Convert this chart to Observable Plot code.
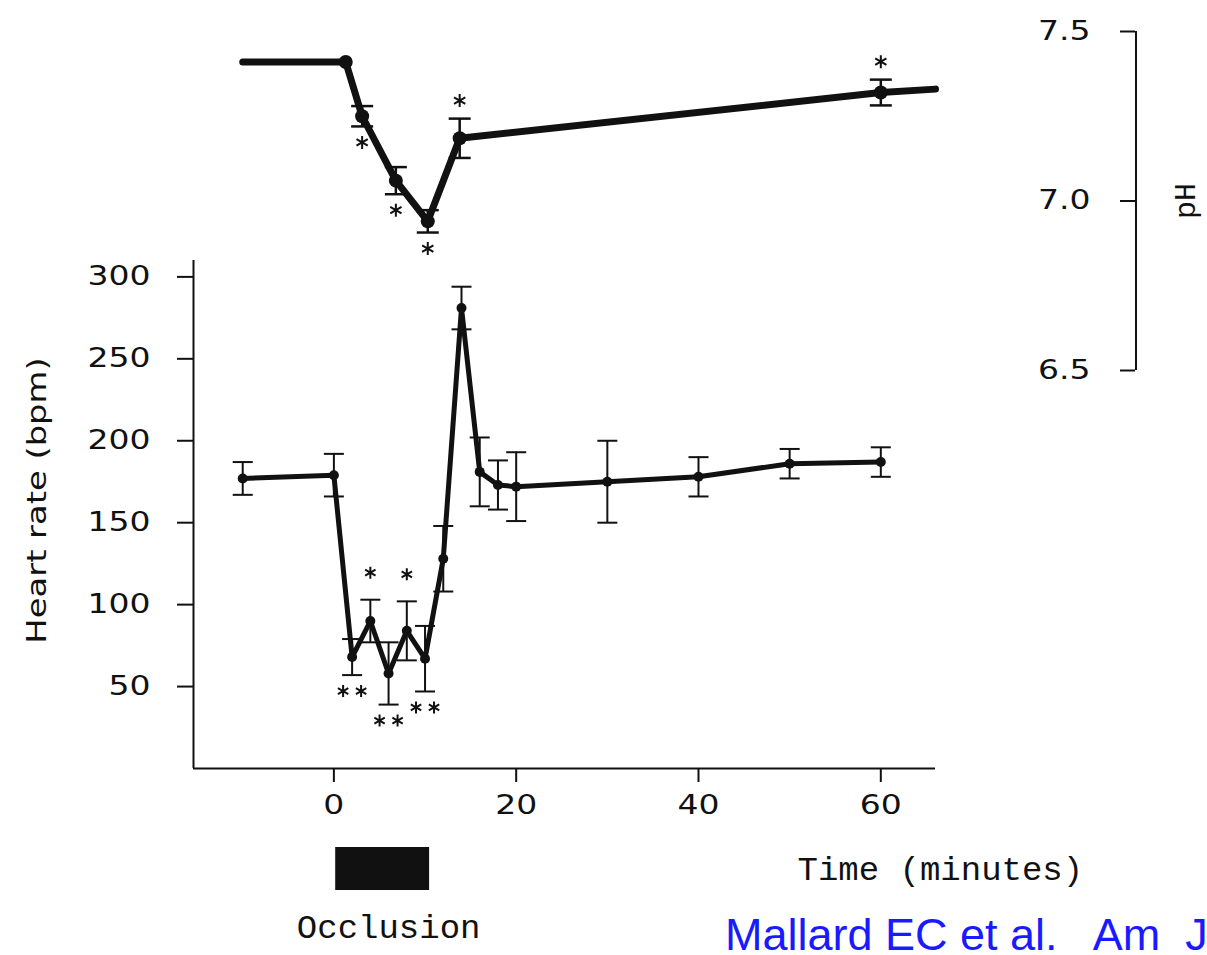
<!DOCTYPE html>
<html>
<head>
<meta charset="utf-8">
<script src="https://cdn.jsdelivr.net/npm/d3@7"></script>
<script src="https://cdn.jsdelivr.net/npm/@observablehq/plot@0.6"></script>
<style>
  html, body { margin: 0; padding: 0; background: #fff; overflow: hidden; }
  #chart { position: relative; width: 1207px; height: 955px; overflow: hidden; background: #fff; }
  #chart svg { position: absolute; left: 0; top: 0; }
  #cite { position: absolute; left: 725px; top: 912px; font-family: "Liberation Sans", Arial, sans-serif;
          font-size: 45px; line-height: 45px; color: #1a1aff; white-space: pre; }
</style>
</head>
<body>
<div id="chart"><div id="cite">Mallard EC et al.   Am  J</div></div>
<script>
// ---------------- data ----------------
// Heart rate (bpm), mean ± SEM
const hrTime  = [-10, 0, 2, 4, 6, 8, 10, 12, 14, 16, 18, 20, 30, 40, 50, 60];
const hrMean  = [177, 179, 68, 90, 58, 84, 67, 128, 281, 181, 173, 172, 175, 178, 186, 187];
const hrSem   = [10, 13, 11, 13, 19, 18, 20, 20, 13, 21, 15, 21, 25, 12, 9, 9];
// significance stars: +n above the bar, -n below the bar
const hrStars = [0, 0, -2, 1, -2, 1, -2, 0, 0, 0, 0, 0, 0, 0, 0, 0];

// Arterial pH, mean ± SEM (null = line point without marker)
const phTime  = [-10, 1.3, 3.1, 6.8, 10.3, 13.8, 60, 66];
const phMean  = [7.41, 7.41, 7.25, 7.06, 6.94, 7.185, 7.32, 7.33];
const phSem   = [null, 0, 0.03, 0.04, 0.033, 0.058, 0.038, null];
const phStars = [0, 0, -1, -1, -1, 1, 1, 0];

// axes
const timeTicks = [0, 20, 40, 60];
const hrTicks   = [50, 100, 150, 200, 250, 300];
const phTicks   = [6.5, 7.0, 7.5];
const timeDomain = [-15.4, 66];
const hrDomain   = [0, 310];
const phDomain   = [6.5, 7.5];
const hrLabel = "Heart rate (bpm)";
const timeLabel = "Time (minutes)";
const phLabel = "pH";

// occlusion period (minutes)
const occlusion = [{start: 0.2, end: 10.5, label: "Occlusion"}];

// ---------------- helpers ----------------
const ink = "#111";
const sansFont = "DejaVu Sans, sans-serif";
const monoFont = "Liberation Mono, DejaVu Sans Mono, monospace";

const hrData = hrTime.map((t, i) => ({t, mean: hrMean[i], sem: hrSem[i], stars: hrStars[i],
  hi: hrMean[i] + hrSem[i], lo: hrMean[i] - hrSem[i]}));
const phData = phTime.map((t, i) => ({t, mean: phMean[i], sem: phSem[i], stars: phStars[i],
  hi: phSem[i] == null ? null : phMean[i] + phSem[i], lo: phSem[i] == null ? null : phMean[i] - phSem[i]}));

const capSymbol = {draw(ctx, size) { const r = Math.sqrt(size / Math.PI); ctx.moveTo(-r, 0); ctx.lineTo(r, 0); }};
const starSymbol = {draw(ctx, size) {
  const r = Math.sqrt(size / Math.PI), s = r * Math.sqrt(3) / 2;
  ctx.moveTo(0, -r); ctx.lineTo(0, r);
  ctx.moveTo(-s, -r / 2); ctx.lineTo(s, r / 2);
  ctx.moveTo(-s, r / 2); ctx.lineTo(s, -r / 2);
}};

function errorMarks(data, capR, sw) {
  const d = data.filter(e => e.sem != null && e.sem > 0);
  return [
    Plot.ruleX(d, {x: "t", y1: "lo", y2: "hi", stroke: ink, strokeWidth: sw}),
    Plot.dot(d, {x: "t", y: "hi", symbol: capSymbol, r: capR, stroke: ink, strokeWidth: sw, fill: "none"}),
    Plot.dot(d, {x: "t", y: "lo", symbol: capSymbol, r: capR, stroke: ink, strokeWidth: sw, fill: "none"})
  ];
}
function starMarks(data, aboveDy, belowDy, r) {
  const marks = [];
  for (const side of [1, -1]) for (const k of [1, 2]) {
    const sub = data.filter(d => Math.sign(d.stars) === side && Math.abs(d.stars) === k);
    if (!sub.length) continue;
    for (const dx of (k === 1 ? [0] : [-9, 9])) {
      marks.push(Plot.dot(sub, {x: "t", y: side > 0 ? "hi" : "lo", dx, dy: side > 0 ? aboveDy : belowDy,
        symbol: starSymbol, r, stroke: ink, strokeWidth: 2, fill: "none"}));
    }
  }
  return marks;
}
// widen glyphs horizontally (the original lettering is an extended sans)
function widen(t, s) {
  const tr = t.getAttribute("transform") || "";
  t.setAttribute("transform", `${tr} scale(${s},1)`);
}
function stretch(svg, selector, s) { svg.querySelectorAll(selector).forEach(t => widen(t, s)); }
function stretchText(svg, content, s) {
  svg.querySelectorAll("text").forEach(t => { if (t.textContent === content) widen(t, s); });
}
const xScale = {domain: timeDomain, range: [193, 935]};

// ---------------- heart rate panel ----------------
const hrPlot = Plot.plot({
  width: 1207, height: 955,
  marginLeft: 193, marginRight: 272, marginTop: 260, marginBottom: 187,
  style: {background: "transparent", color: ink, fontFamily: sansFont, fontSize: "26px"},
  x: {...xScale, axis: null},
  y: {domain: hrDomain, axis: null},
  marks: [
    Plot.ruleX([timeDomain[0]], {stroke: ink, strokeWidth: 2}),
    Plot.ruleY([hrDomain[0]], {stroke: ink, strokeWidth: 2}),
    Plot.axisY(hrTicks, {anchor: "left", tickSize: 16, tickPadding: 27, tickFormat: d3.format("d"),
      fontSize: 26, fontFamily: sansFont, strokeWidth: 2, label: null}),
    Plot.axisX(timeTicks, {anchor: "bottom", tickSize: 14, tickPadding: 13, tickFormat: d3.format("d"),
      fontSize: 26, fontFamily: sansFont, strokeWidth: 2, label: null}),
    Plot.text([hrLabel], {frameAnchor: "left", textAnchor: "middle", dx: -156, dy: -14, rotate: -90,
      fontSize: 26, fontFamily: sansFont, fill: ink}),
    Plot.text([timeLabel], {frameAnchor: "bottom-right", textAnchor: "start", dx: -138, dy: 111,
      fontSize: 34, fontFamily: monoFont, fill: ink}),
    ...errorMarks(hrData, 10, 2),
    Plot.line(hrData, {x: "t", y: "mean", stroke: ink, strokeWidth: 5, strokeLinejoin: "miter"}),
    Plot.dot(hrData, {x: "t", y: "mean", r: 5, fill: ink}),
    ...starMarks(hrData, -27, 16, 6)
  ]
});

// ---------------- pH panel ----------------
const phPlot = Plot.plot({
  width: 1207, height: 955,
  marginLeft: 1135, marginRight: 71, marginTop: 31, marginBottom: 585,
  style: {background: "transparent", color: ink, fontFamily: sansFont, fontSize: "26px"},
  x: {...xScale, axis: null},
  y: {domain: phDomain, axis: null},
  marks: [
    Plot.ruleX([phDomain], {x: null, y1: d => d[0], y2: d => d[1], stroke: ink, strokeWidth: 2}),
    Plot.axisY(phTicks, {anchor: "left", tickSize: 15, tickPadding: 30, tickFormat: d3.format(".1f"),
      fontSize: 26, fontFamily: sansFont, strokeWidth: 2, label: null}),
    Plot.text([phLabel], {frameAnchor: "middle", dx: 49, rotate: -90, fontSize: 30, fontFamily: monoFont, fill: ink}),
    ...errorMarks(phData, 11, 2.5),
    Plot.line(phData, {x: "t", y: "mean", stroke: ink, strokeWidth: 7, strokeLinejoin: "miter"}),
    Plot.dot(phData.filter(d => d.sem != null), {x: "t", y: "mean", r: 7, fill: ink}),
    ...starMarks(phData, -18, 16, 6.5)
  ]
});

// ---------------- occlusion bar ----------------
const occPlot = Plot.plot({
  width: 1207, height: 955,
  marginLeft: 193, marginRight: 272, marginTop: 847, marginBottom: 65,
  style: {background: "transparent", color: ink},
  x: {...xScale, axis: null},
  marks: [
    Plot.rect(occlusion, {x1: "start", x2: "end", fill: ink}),
    Plot.text(occlusion, {x: d => (d.start + d.end) / 2, text: "label", frameAnchor: "bottom", dx: 6, dy: 47,
      fontSize: 34, fontFamily: monoFont, fill: ink})
  ]
});

const chart = document.getElementById("chart");
for (const svg of [hrPlot, phPlot, occPlot]) chart.appendChild(svg);
stretch(hrPlot, 'g[aria-label$="tick label"] text', 1.27);
stretch(phPlot, 'g[aria-label$="tick label"] text', 1.27);
stretchText(hrPlot, hrLabel, 1.3);
</script>
</body>
</html>
